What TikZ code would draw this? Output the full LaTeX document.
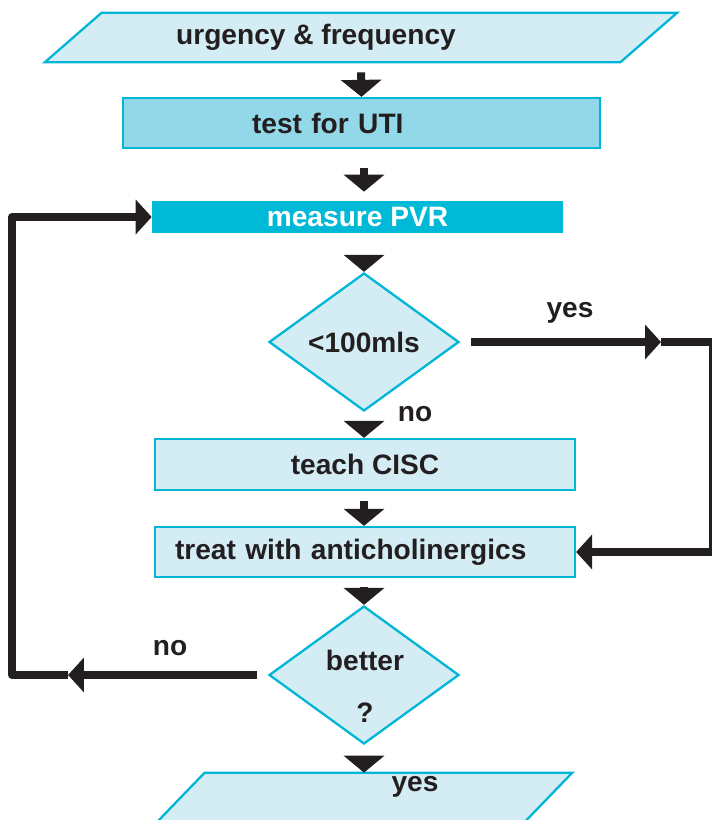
\documentclass[tikz,border=0pt]{standalone}
\usepackage{fontspec}
\setmainfont{Liberation Sans}
\usepackage{xcolor}
\definecolor{boxFill}{HTML}{D4EDF4}
\definecolor{boxDark}{HTML}{93D8E8}
\definecolor{boxLine}{HTML}{00B5D5}
\definecolor{pvrFill}{HTML}{00B9D6}
\definecolor{ink}{HTML}{231F20}
\usetikzlibrary{%
    shapes,
    shapes.geometric,
    arrows.meta,
    positioning,
    calc
}

\begin{document}
\begin{tikzpicture}[x=0.02cm, y=-0.02cm,
                every node/.style={font=\fontsize{16}{19}\selectfont\bfseries, text=ink},
                stage/.style={rectangle, minimum width=8.4cm, minimum height=1cm, fill=boxFill, draw=boxLine, line width=1.3pt, inner sep=0pt, align=center},
                darkstage/.style={stage, fill=boxDark},
                pvrbar/.style={rectangle, minimum width=8.22cm, minimum height=0.64cm, fill=pvrFill, draw=none, text=white},
                choice/.style={diamond, minimum width=3.8cm, minimum height=2.76cm, inner sep=0pt, fill=boxFill, draw=boxLine, line width=1.3pt},
                slantbody/.style={rectangle, minimum height=0.98cm, inner sep=0pt, draw=none},
                slant/.style={fill=boxFill, draw=boxLine, line width=1.3pt, line join=miter},
                flow/.style={draw=ink, line width=0.16cm, -{Triangle[length=0.34cm, width=0.8cm]}},
                hflow/.style={draw=ink, line width=0.16cm, line join=round, -{Triangle[length=0.32cm, width=0.68cm]}}
            ]
            \useasboundingbox (0,0) rectangle (711,820);

            % boxes
            \node (start) at (361,37.5) [slantbody, minimum width=12.64cm] {};
            \draw[slant] ([xshift=1.14cm]start.north west) -- (start.north east)
                -- ([xshift=-1.14cm]start.south east) -- (start.south west) -- cycle;
            \node (startText) at (316,37) {urgency \& frequency};

            \node (uti) at (361.5,123) [darkstage, minimum width=9.54cm, text width=4.38cm, inner xsep=2.58cm, align=left] {test for UTI};

            \node (pvr) at (357.5,217) [pvrbar] {measure PVR};

            \node (lowPvr) at (364,342) [choice] {<100mls};

            \node (cisc) at (365,464.5) [stage, minimum height=1.02cm] {teach CISC};

            \node (treat) at (365,552) [stage, text width=7.6cm, inner xsep=0.4cm, align=left] {treat with anticholinergics};

            \node (better) at (364,675) [choice] {};
            \node (betterText) at (365,660) {better};
            \node (betterMark) at (365,713) {?};

            \node (finish) at (364.5,797.5) [slantbody, minimum width=8.3cm] {};
            \draw[slant] ([xshift=0.96cm]finish.north west) -- (finish.north east)
                -- ([xshift=-0.96cm]finish.south east) -- (finish.south west) -- cycle;
            \node (finishText) at (415,787) {yes};

            % labels
            \node (yesLabel) at (570,313) {yes};
            \node (noLabel) at (415,414) {no};
            \node (loopLabel) at (170,648) {no};

            % turning points
            \coordinate (yesTip) at (661,342);
            \coordinate (yesTop) at (713,342);
            \coordinate (yesBot) at (yesTop |- treat.east);
            \coordinate (noTip) at (68,675);
            \coordinate (loopBot) at (12,675);
            \coordinate (loopTop) at (loopBot |- pvr.west);

            % main flow
            \draw[flow, shorten <=0.2cm] (start.south) -- (uti.north);
            \draw[flow, shorten <=0.38cm, shorten >=0.18cm] (uti.south -| lowPvr.north) -- (pvr.north -| lowPvr.north);
            \draw[flow] (lowPvr.north) ++(0,-17) -- (lowPvr.north);
            \draw[flow] (lowPvr.south) ++(0,12) -- (cisc.north -| lowPvr.south);
            \draw[flow, shorten <=0.2cm] (cisc.south -| lowPvr.south) -- (treat.north -| lowPvr.south);
            \draw[flow] (better.north) ++(0,-18) -- (better.north);
            \draw[flow] (better.south) ++(0,11) -- (finish.north -| better.south);

            % yes branch
            \draw[hflow, shorten <=0.22cm] (lowPvr.east) -- (yesTip);
            \draw[hflow] (yesTip) -- (yesTop) -- (yesBot) -- (treat.east);

            % no branch back to PVR
            \draw[hflow, shorten <=0.22cm] (better.west) -- (noTip);
            \draw[hflow] (noTip) -- (loopBot) -- (loopTop) -- (pvr.west);
        \end{tikzpicture}
\end{document}
